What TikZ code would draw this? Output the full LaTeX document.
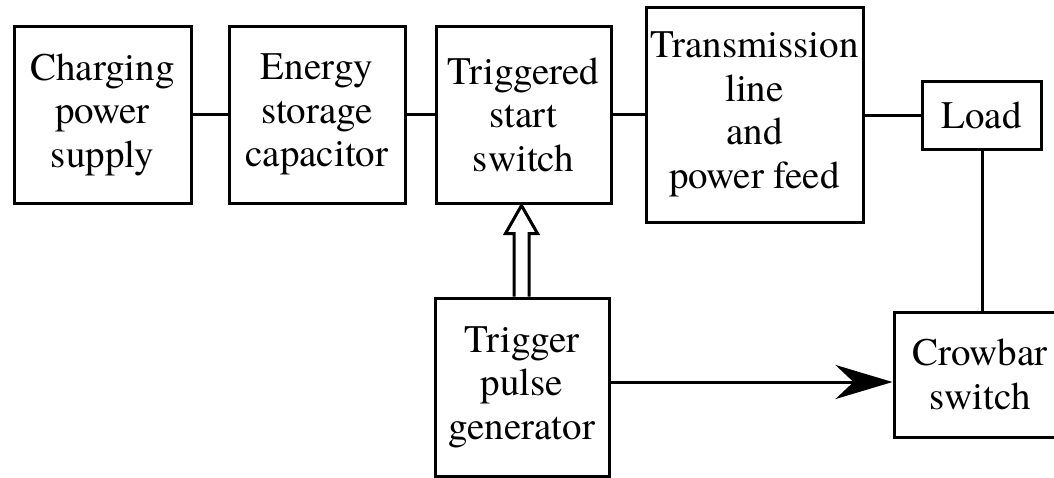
\documentclass[tikz,border=0pt]{standalone}
\usepackage{fontspec}
\setmainfont{TeX Gyre Termes}
\usetikzlibrary{arrows.meta,calc}
\begin{document}
\begin{tikzpicture}[x=1pt,y=-1pt,
  blk/.style={draw,line width=3pt,inner sep=0pt,align=center,
    font=\fontsize{39}{43.5}\selectfont},
  wire/.style={line width=3pt}]
\useasboundingbox (0,0) rectangle (1054,477);
\node[blk,minimum width=177pt,minimum height=177pt] (b1) at (102.5,114.5) {Charging\\power\\supply};
\node[blk,minimum width=176pt,minimum height=177pt] (b2) at (317,114.5) {Energy\\storage\\capacitor};
\node[blk,minimum width=175pt,minimum height=177pt] (b3) at (523.5,114.5) {Triggered\\start\\switch};
\node[blk,minimum width=217pt,minimum height=215pt] (b4) at (754.5,114.5) {Transmission\\line\\and\\power feed};
\node[blk,minimum width=119pt,minimum height=68pt] (load) at (981.5,115) {Load};
\node[blk,minimum width=174pt,minimum height=178pt] (tpg) at (522,387) {Trigger\\pulse\\generator};
\node[blk,minimum width=172pt,minimum height=125pt] (crow) at (980,374.5) {Crowbar\\switch};
\draw[wire] (b1.east) -- (b2.west);
\draw[wire] (b2.east) -- (b3.west);
\draw[wire] (b3.east) -- (b4.west);
\draw[wire] (load.west) -- (load.west -| b4.east);
\draw[wire] ($(load.south)+(0.5,0)$) -- ($(load.south |- crow.north)+(0.5,0)$);
% hollow double arrow from trigger pulse generator to triggered start switch
\coordinate (tip) at ($(b3.south)+(-2,1)$);
\draw[wire,line join=miter]
  ($(tip |- tpg.north)+(-7.5,0)$) -- ($(tip)+(-7.5,28)$) -- ($(tip)+(-16,28)$) -- (tip)
  -- ($(tip)+(16,28)$) -- ($(tip)+(7.5,28)$) -- ($(tip |- tpg.north)+(7.5,0)$);
% trigger to crowbar
\coordinate (tout) at ($(tpg.east)+(0,-5)$);
\draw[wire,-{Stealth[length=57pt,width=34pt,inset=18pt]}] (tout) -- (tout -| crow.west);
\end{tikzpicture}
\end{document}
